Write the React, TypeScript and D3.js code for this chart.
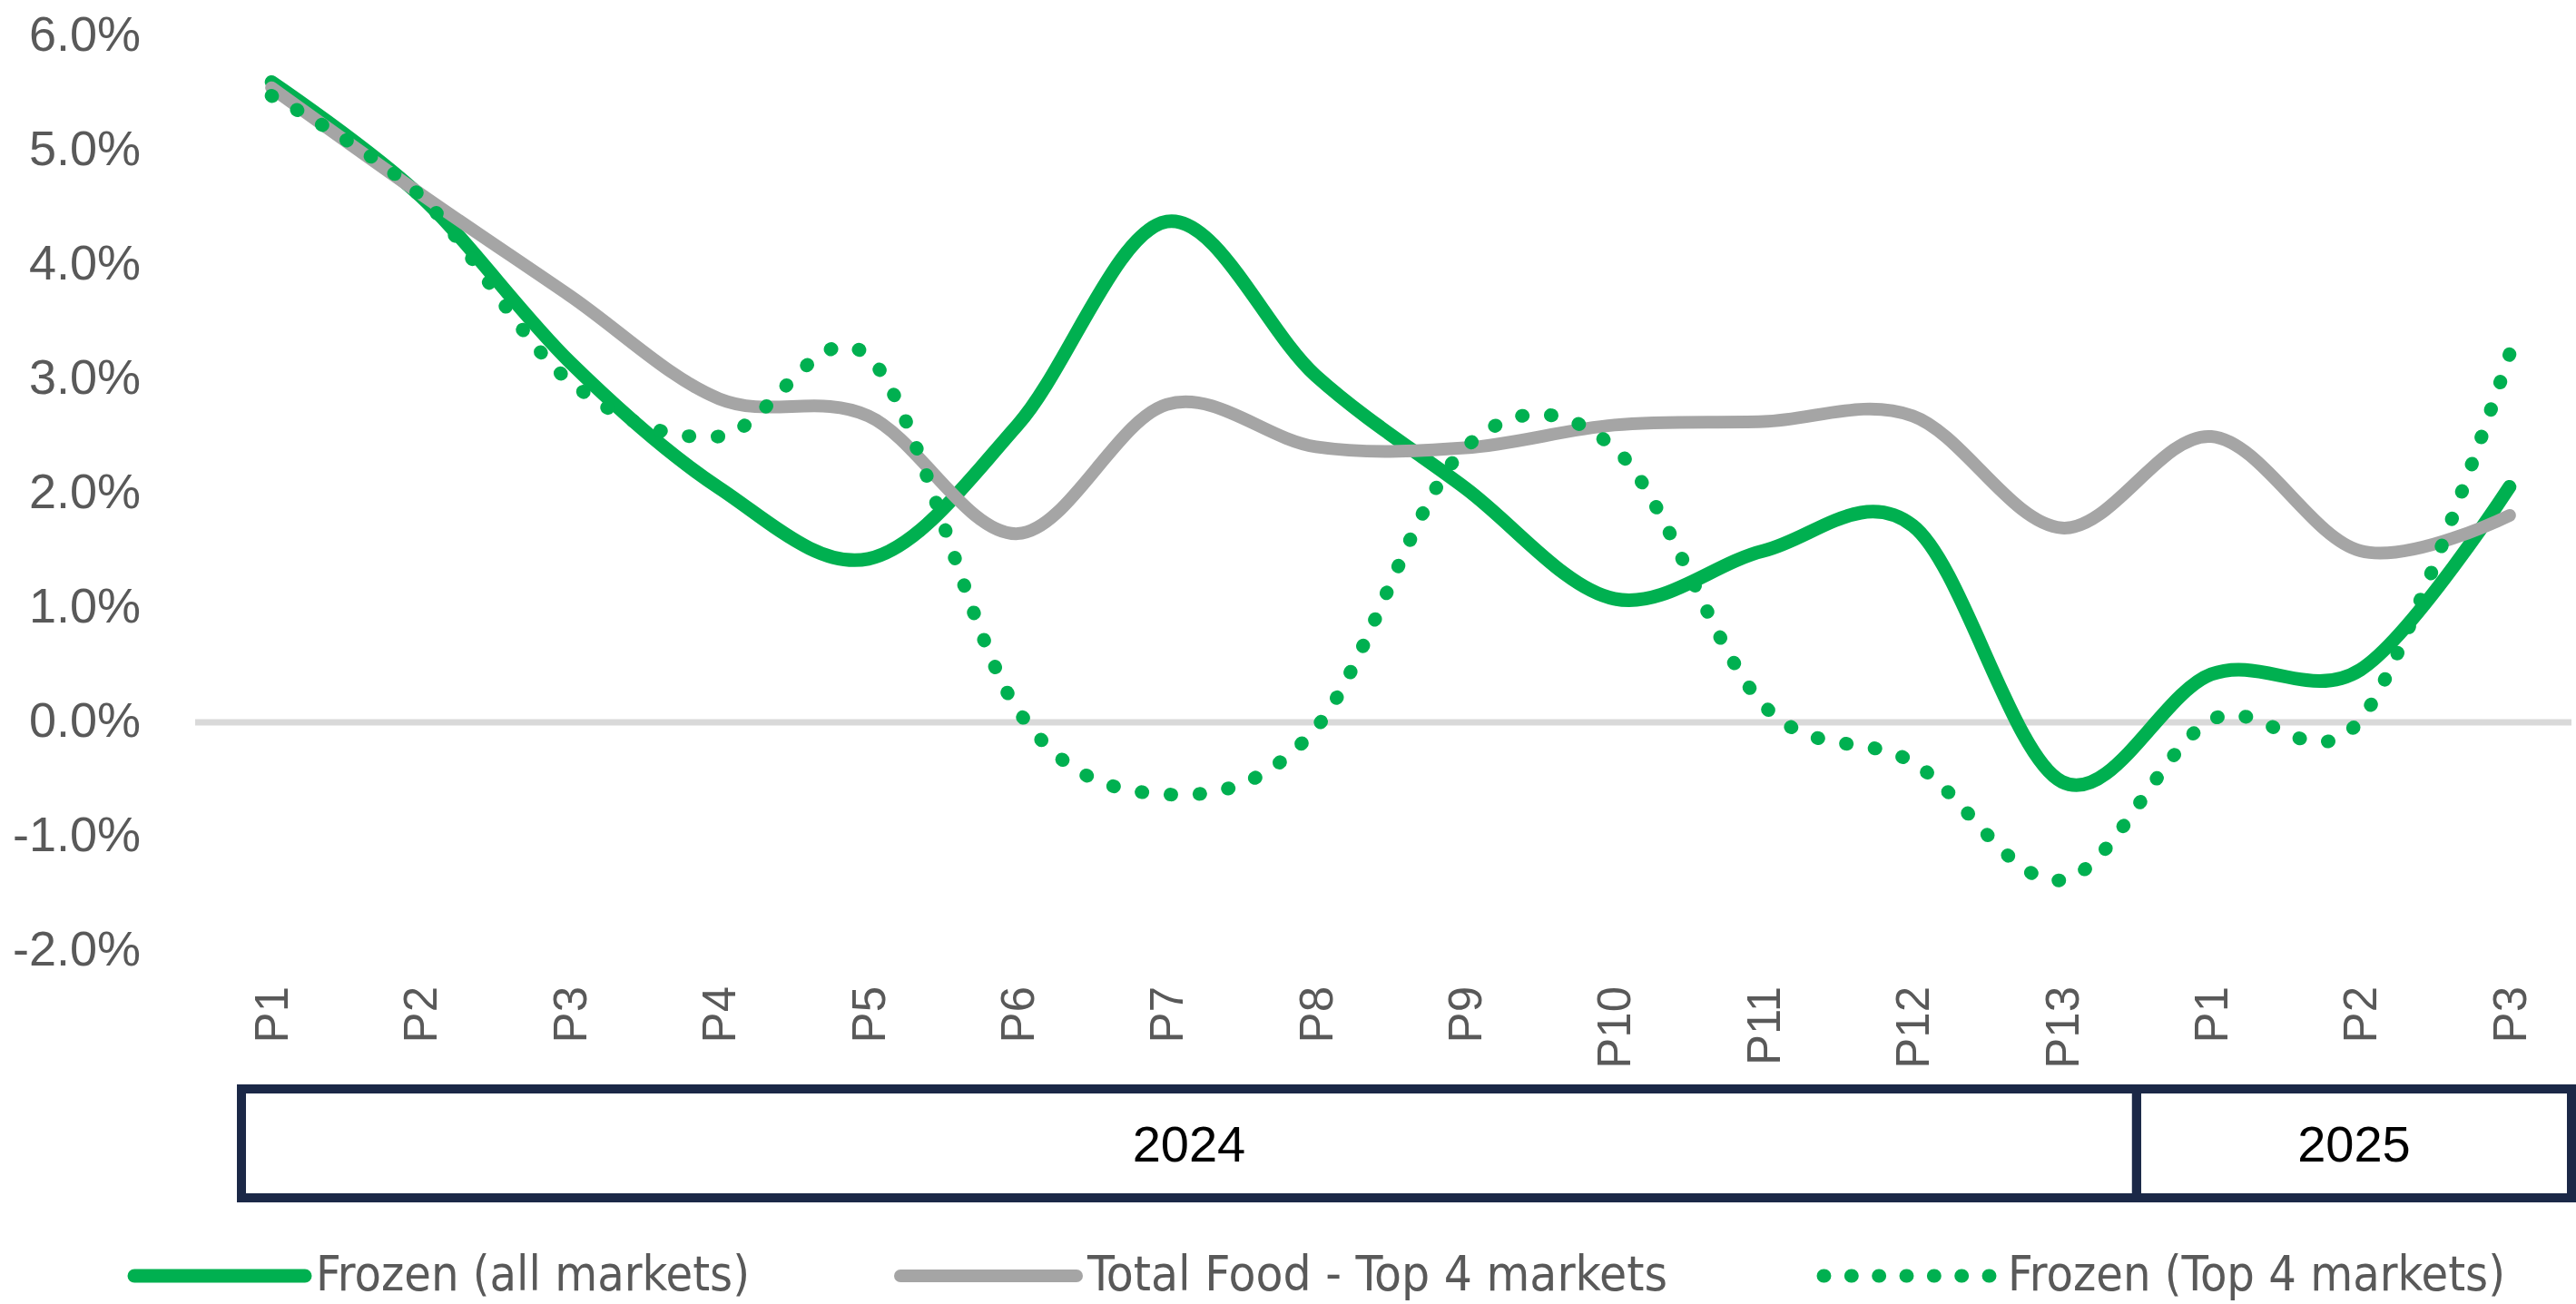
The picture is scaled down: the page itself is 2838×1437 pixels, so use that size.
import React, { useLayoutEffect, useRef, useState } from "react";
import * as d3 from "d3";

const categories = ["P1", "P2", "P3", "P4", "P5", "P6", "P7", "P8", "P9", "P10", "P11", "P12", "P13", "P1", "P2", "P3"];
const years = [
  { label: "2024", first: 0, last: 12 },
  { label: "2025", first: 13, last: 15 }
];
const yTicks = [-2, -1, 0, 1, 2, 3, 4, 5, 6];

const frozenAll = [5.6, 4.6, 3.15, 2.05, 1.43, 2.6, 4.38, 3.03, 2.05, 1.08, 1.5, 1.72, -0.52, 0.42, 0.46, 2.06];
const totalFood = [5.55, 4.62, 3.73, 2.83, 2.68, 1.65, 2.78, 2.41, 2.4, 2.6, 2.63, 2.68, 1.7, 2.5, 1.5, 1.81];
const frozenTop4 = [5.48, 4.6, 2.98, 2.5, 3.2, 0.11, -0.63, -0.05, 2.4, 2.4, 0.15, -0.35, -1.38, 0.02, 0.02, 3.22];

const W = 2838;
const H = 1437;
const GREEN = "#00B050";
const GREY = "#A5A5A5";
const NAVY = "#1B2847";
const LABEL = "#595959";
const DOT_STEP = 32;

export default function App() {
  const dottedRef = useRef<SVGPathElement>(null);
  const [dotLen, setDotLen] = useState<number | undefined>(undefined);

  // fit the dot pattern so that a dot sits on both ends of the dotted series
  useLayoutEffect(() => {
    if (dottedRef.current) {
      const L = dottedRef.current.getTotalLength();
      setDotLen(Math.round(L / DOT_STEP) * DOT_STEP + 1);
    }
  }, []);

  const x = d3
    .scaleBand<number>()
    .domain(d3.range(categories.length))
    .range([217, 2847])
    .padding(0);
  const cx = (i: number) => (x(i) as number) + x.bandwidth() / 2;
  const y = d3.scaleLinear().domain([-2, 6]).range([1048, 40]);

  const line = d3
    .line<number>()
    .x((_, i) => cx(i))
    .y(d => y(d))
    .curve(d3.curveCatmullRom.alpha(0));

  // plain hyphen for negatives, like the original
  const fmt = (v: number) => v.toFixed(1) + "%";

  const series = [
    { name: "Frozen (all markets)", values: frozenAll, color: GREEN, width: 15, dotted: false },
    { name: "Total Food - Top 4 markets", values: totalFood, color: GREY, width: 14, dotted: false },
    { name: "Frozen (Top 4 markets)", values: frozenTop4, color: GREEN, width: 15, dotted: true }
  ];

  const legend = [
    { x0: 148, x1: 336, tx: 348, tl: 478 },
    { x0: 992, x1: 1186, tx: 1198, tl: 639 },
    { x0: 2009, x1: 2192, tx: 2212, tl: 548 }
  ];

  const boxTop = 1200;
  const boxBottom = 1320;

  return (
    <svg
      width={W}
      height={H}
      style={{ position: "absolute", left: 0, top: 0, background: "#fff" }}
    >
      {/* y axis labels */}
      <g fontFamily="'Liberation Sans', Arial, sans-serif" fontSize={54} fill={LABEL}>
        {yTicks.map(t => (
          <text key={t} x={155} y={y(t) - 3} dy="0.35em" textAnchor="end">
            {fmt(t)}
          </text>
        ))}
      </g>

      {/* zero line */}
      <line x1={215} x2={2833} y1={y(0)} y2={y(0)} stroke="#D9D9D9" strokeWidth={7} />

      {/* series */}
      {series.map(s => (
        <path
          key={s.name}
          ref={s.dotted ? dottedRef : undefined}
          d={line(s.values) || ""}
          fill="none"
          stroke={s.color}
          strokeWidth={s.width}
          strokeLinecap="round"
          strokeLinejoin="round"
          strokeDasharray={s.dotted ? `1 ${DOT_STEP - 1}` : undefined}
          pathLength={s.dotted ? dotLen : undefined}
        />
      ))}

      {/* category labels */}
      <g fontFamily="'Liberation Sans', Arial, sans-serif" fontSize={51} fill={LABEL}>
        {categories.map((c, i) => (
          <text
            key={i}
            transform={`translate(${cx(i)},1087) rotate(-90)`}
            dy="0.35em"
            textAnchor="end"
          >
            {c}
          </text>
        ))}
      </g>

      {/* year boxes */}
      {years.map((yr, k) => {
        const left = k === 0 ? (x(yr.first) as number) + 49 : (x(yr.first) as number);
        const right = Math.min((x(yr.last) as number) + x.bandwidth(), 2833);
        return (
          <g key={yr.label}>
            <rect
              x={left}
              y={boxTop}
              width={right - left}
              height={boxBottom - boxTop}
              fill="none"
              stroke={NAVY}
              strokeWidth={10}
            />
            <text
              x={(left + right) / 2}
              y={(boxTop + boxBottom) / 2}
              dy="0.35em"
              textAnchor="middle"
              fontFamily="'Liberation Sans', Arial, sans-serif"
              fontSize={56}
              fill="#000"
            >
              {yr.label}
            </text>
          </g>
        );
      })}

      {/* legend */}
      {series.map((s, i) => (
        <g key={s.name}>
          <line
            x1={legend[i].x0}
            x2={legend[i].x1}
            y1={1406}
            y2={1406}
            stroke={s.color}
            strokeWidth={s.width}
            strokeLinecap="round"
            strokeDasharray={s.dotted ? `1 ${DOT_STEP - 1}` : undefined}
            pathLength={s.dotted ? 6 * DOT_STEP + 1 : undefined}
          />
          <text
            x={legend[i].tx}
            y={1422}
            fontFamily="'Liberation Sans Narrow', 'DejaVu Sans Condensed', 'Liberation Sans', sans-serif"
            fontSize={54}
            fill={LABEL}
            textLength={legend[i].tl}
            lengthAdjust="spacingAndGlyphs"
          >
            {s.name}
          </text>
        </g>
      ))}
    </svg>
  );
}
